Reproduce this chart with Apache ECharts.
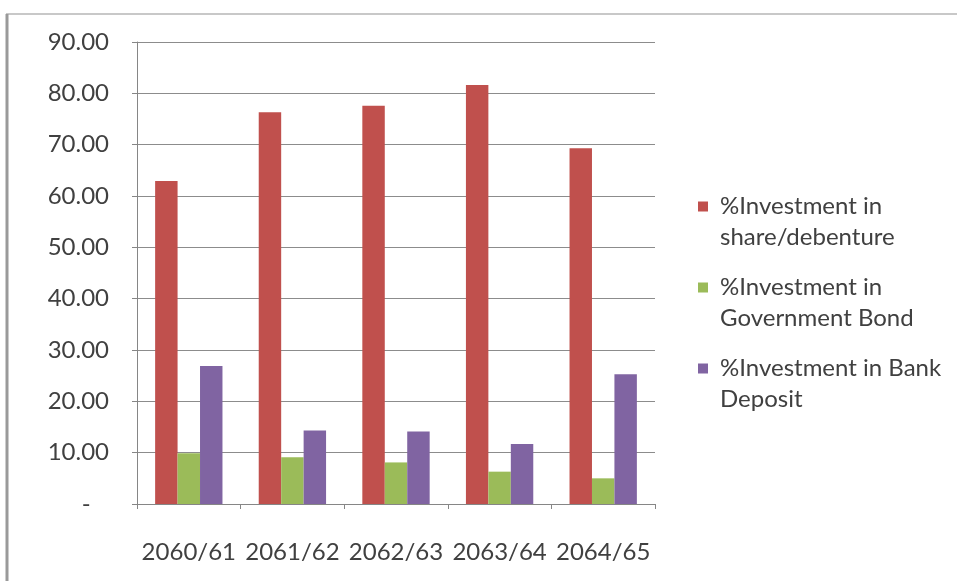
<!DOCTYPE html>
<html>
<head>
<meta charset="utf-8">
<script src="https://cdn.jsdelivr.net/npm/echarts@6/dist/echarts.min.js"></script>
<style>
  html, body { margin: 0; padding: 0; background: #fff; }
  #chart { width: 957px; height: 581px; }
</style>
</head>
<body>
<div id="chart"></div>
<script>
// data
const years = ['2060/61', '2061/62', '2062/63', '2063/64', '2064/65']
const seriesNames = [
  '%Investment in\nshare/debenture',
  '%Investment in\nGovernment Bond',
  '%Investment in Bank\nDeposit'
]
const shareDebenture = [62.9, 76.3, 77.6, 81.6, 69.3]
const governmentBond = [9.9, 9.1, 8.1, 6.3, 5.0]
const bankDeposit = [26.9, 14.3, 14.1, 11.7, 25.3]
const colors = ['#C0504D', '#9BBB59', '#8064A2']

const chart = echarts.init(document.getElementById('chart'))

const option = {
  animation: false,
  color: colors,
  textStyle: { fontFamily: 'Lato', color: '#404040' },
  graphic: [
    // outer frame of the pasted picture
    { type: 'line', shape: { x1: 6, y1: 14, x2: 957, y2: 14 }, style: { stroke: '#c8c8c8', lineWidth: 2 } },
    { type: 'line', shape: { x1: 7, y1: 14, x2: 7, y2: 581 }, style: { stroke: '#9a9a9a', lineWidth: 3 } }
  ],
  grid: { left: 137, right: 302, top: 42, bottom: 77 },
  legend: {
    orient: 'vertical',
    left: 698,
    top: 160,
    padding: 0,
    itemWidth: 10,
    itemHeight: 10,
    itemGap: -12,
    icon: 'rect',
    data: seriesNames,
    // blank first line so the marker sits beside the first text line
    formatter: name => '\n' + name,
    textStyle: {
      fontFamily: 'Lato',
      fontSize: 24,
      color: '#404040',
      lineHeight: 31,
      padding: [0, 0, 0, 7]
    }
  },
  xAxis: {
    type: 'category',
    data: years,
    axisLine: { lineStyle: { color: '#868686', width: 1 } },
    axisTick: { show: true, length: 5, lineStyle: { color: '#868686' } },
    axisLabel: { fontSize: 24, color: '#404040', margin: 36, interval: 0 }
  },
  yAxis: {
    type: 'value',
    min: 0,
    max: 90,
    interval: 10,
    axisLine: { show: true, lineStyle: { color: '#868686', width: 1 } },
    axisTick: { show: true, length: 5, lineStyle: { color: '#868686' } },
    splitLine: { lineStyle: { color: '#8c8c8c', width: 1 } },
    axisLabel: {
      fontSize: 24,
      color: '#404040',
      margin: 28,
      formatter: v => v === 0 ? '-   ' : v.toFixed(2)
    }
  },
  series: [
    { name: seriesNames[0], type: 'bar', data: shareDebenture, barGap: '0%', barCategoryGap: '35%' },
    { name: seriesNames[1], type: 'bar', data: governmentBond, barGap: '0%', barCategoryGap: '35%' },
    { name: seriesNames[2], type: 'bar', data: bankDeposit, barGap: '0%', barCategoryGap: '35%' }
  ]
}

chart.setOption(option)
</script>
</body>
</html>
